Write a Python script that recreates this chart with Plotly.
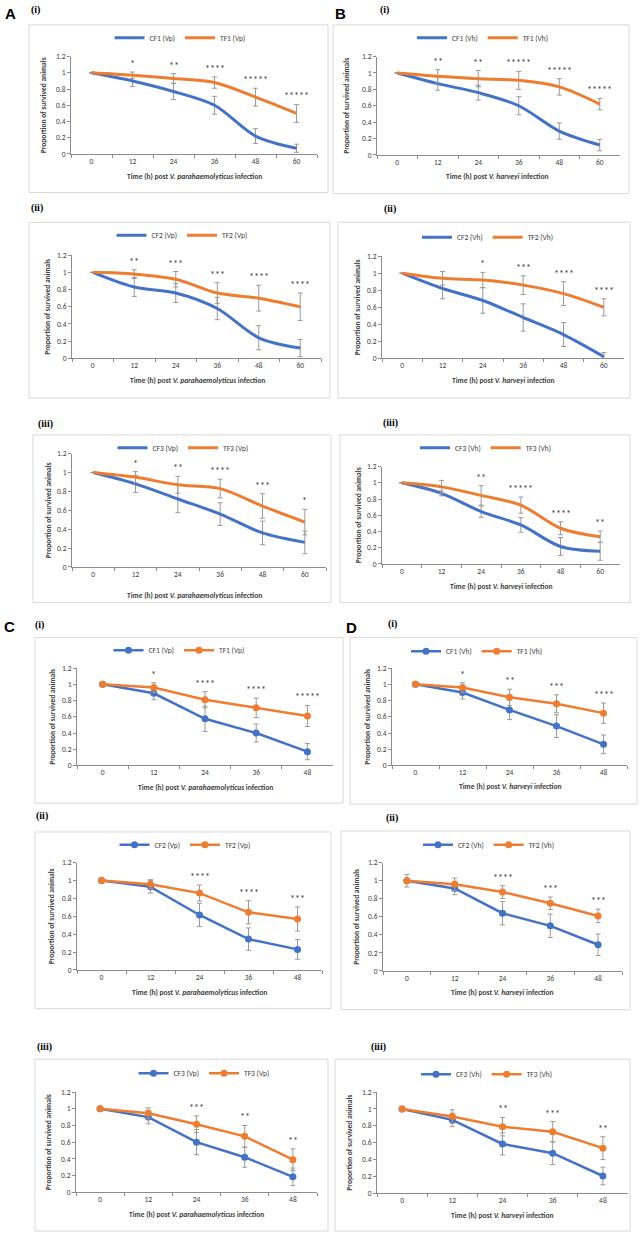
"""Survival curves of challenged animals, panels A-D (i-iii)."""

import plotly.graph_objects as go

W, H = 640, 1239

HOURS_60 = ["0", "12", "24", "36", "48", "60"]
HOURS_48 = ["0", "12", "24", "36", "48"]

# A: V. parahaemolyticus, 60 h
A1_CF = [1.0, 0.90, 0.77, 0.60, 0.22, 0.07]
A1_CF_SD = [0, 0.07, 0.10, 0.11, 0.09, 0.05]
A1_TF = [1.0, 0.97, 0.93, 0.88, 0.70, 0.50]
A1_TF_SD = [0, 0.04, 0.06, 0.07, 0.11, 0.11]
A1_SIG = ["", "*", "**", "****", "*****", "*****"]

A2_CF = [1.0, 0.83, 0.76, 0.58, 0.24, 0.12]
A2_CF_SD = [0, 0.11, 0.11, 0.13, 0.14, 0.10]
A2_TF = [1.0, 0.98, 0.92, 0.76, 0.70, 0.60]
A2_TF_SD = [0, 0.05, 0.09, 0.12, 0.15, 0.16]
A2_SIG = ["", "**", "***", "***", "****", "****"]

A3_CF = [1.0, 0.88, 0.72, 0.56, 0.36, 0.26]
A3_CF_SD = [0, 0.09, 0.145, 0.12, 0.125, 0.12]
A3_TF = [1.0, 0.95, 0.87, 0.83, 0.645, 0.475]
A3_TF_SD = [0, 0.06, 0.09, 0.10, 0.13, 0.135]
A3_SIG = ["", "*", "**", "****", "***", "*"]

# B: V. harveyi, 60 h
B1_CF = [1.0, 0.87, 0.76, 0.60, 0.29, 0.12]
B1_CF_SD = [0, 0.08, 0.09, 0.11, 0.10, 0.07]
B1_TF = [1.0, 0.96, 0.93, 0.91, 0.83, 0.62]
B1_TF_SD = [0, 0.08, 0.10, 0.11, 0.10, 0.07]
B1_SIG = ["", "**", "**", "*****", "*****", "*****"]

B2_CF = [1.0, 0.82, 0.68, 0.48, 0.28, 0.02]
B2_CF_SD = [0, 0.12, 0.15, 0.16, 0.14, 0.05]
B2_TF = [1.0, 0.94, 0.92, 0.86, 0.76, 0.60]
B2_TF_SD = [0, 0.08, 0.09, 0.11, 0.14, 0.10]
B2_SIG = ["", "", "*", "***", "****", "****"]

B3_CF = [1.0, 0.87, 0.645, 0.48, 0.215, 0.155]
B3_CF_SD = [0, 0.03, 0.07, 0.09, 0.11, 0.11]
B3_TF = [1.0, 0.95, 0.845, 0.725, 0.44, 0.335]
B3_TF_SD = [0, 0.08, 0.12, 0.10, 0.08, 0.07]
B3_SIG = ["", "", "**", "*****", "****", "**"]

# C: V. parahaemolyticus, 48 h
C1_CF = [1.0, 0.89, 0.575, 0.40, 0.17]
C1_CF_SD = [0, 0.08, 0.155, 0.11, 0.10]
C1_TF = [1.0, 0.96, 0.81, 0.71, 0.61]
C1_TF_SD = [0, 0.06, 0.10, 0.12, 0.13]
C1_SIG = ["", "*", "****", "****", "*****"]

C2_CF = [1.0, 0.93, 0.615, 0.345, 0.23]
C2_CF_SD = [0, 0.07, 0.13, 0.125, 0.11]
C2_TF = [1.0, 0.96, 0.86, 0.645, 0.57]
C2_TF_SD = [0, 0.05, 0.09, 0.13, 0.135]
C2_SIG = ["", "", "****", "****", "***"]

C3_CF = [1.0, 0.90, 0.60, 0.42, 0.185]
C3_CF_SD = [0, 0.08, 0.15, 0.12, 0.105]
C3_TF = [1.0, 0.945, 0.815, 0.67, 0.39]
C3_TF_SD = [0, 0.065, 0.10, 0.13, 0.13]
C3_SIG = ["", "", "***", "**", "**"]

# D: V. harveyi, 48 h
D1_CF = [1.0, 0.90, 0.685, 0.485, 0.26]
D1_CF_SD = [0, 0.08, 0.12, 0.14, 0.115]
D1_TF = [1.0, 0.96, 0.84, 0.76, 0.645]
D1_TF_SD = [0, 0.06, 0.10, 0.11, 0.125]
D1_SIG = ["", "*", "**", "***", "****"]

D2_CF = [1.0, 0.915, 0.64, 0.50, 0.29]
D2_CF_SD = [0, 0.07, 0.13, 0.13, 0.12]
D2_TF = [1.0, 0.96, 0.875, 0.75, 0.61]
D2_TF_SD = [0.07, 0.07, 0.07, 0.07, 0.075]
D2_SIG = ["", "", "****", "***", "***"]

D3_CF = [1.0, 0.87, 0.585, 0.475, 0.205]
D3_CF_SD = [0, 0.08, 0.13, 0.135, 0.105]
D3_TF = [1.0, 0.91, 0.79, 0.73, 0.535]
D3_TF_SD = [0, 0.08, 0.11, 0.12, 0.135]
D3_SIG = ["", "", "**", "***", "**"]

BLUE = "#4472C4"
ORANGE = "#ED7D31"
ERR = "#9a9a9a"
AXIS = "#8c8c8c"
TEXT = "#404040"
FONT = "Carlito, Liberation Sans Narrow, Liberation Sans, sans-serif"

STRAIN = {"Vp": "V. parahaemolyticus", "Vh": "V. harveyi"}

# data per panel + pixel geometry (plot area, frame, legend centre, titles, labels)
PANELS = [
    dict(h=HOURS_60, cf=A1_CF, cfe=A1_CF_SD, tf=A1_TF, tfe=A1_TF_SD, sig=A1_SIG, n=1, s="Vp", smooth=True,
         plot=(71, 317, 53, 151), box=(29, 21, 328, 190), leg=(180, 34), yt=43, xt=(194, 174),
         letter=("A", 10, 10), roman=("(i)", 35, 6)),
    dict(h=HOURS_60, cf=B1_CF, cfe=B1_CF_SD, tf=B1_TF, tfe=B1_TF_SD, sig=B1_SIG, n=1, s="Vh", smooth=True,
         plot=(377, 620, 53, 152), box=(333, 21, 629, 191), leg=(483, 34), yt=347, xt=(497, 174),
         letter=("B", 340, 10), roman=("(i)", 384, 6)),
    dict(h=HOURS_60, cf=A2_CF, cfe=A2_CF_SD, tf=A2_TF, tfe=A2_TF_SD, sig=A2_SIG, n=2, s="Vp", smooth=True,
         plot=(72, 321, 253, 357), box=(29, 220, 330, 397), leg=(182, 233), yt=48, xt=(197, 379),
         letter=None, roman=("(ii)", 37, 205)),
    dict(h=HOURS_60, cf=B2_CF, cfe=B2_CF_SD, tf=B2_TF, tfe=B2_TF_SD, sig=B2_SIG, n=2, s="Vh", smooth=True,
         plot=(382, 624, 254, 357), box=(338, 220, 630, 397), leg=(488, 235), yt=357, xt=(503, 379),
         letter=None, roman=("(ii)", 390, 206)),
    dict(h=HOURS_60, cf=A3_CF, cfe=A3_CF_SD, tf=A3_TF, tfe=A3_TF_SD, sig=A3_SIG, n=3, s="Vp", smooth=True,
         plot=(72, 326, 453, 567), box=(33, 434, 331, 603), leg=(183, 447), yt=48, xt=(194, 596),
         letter=None, roman=("(iii)", 45, 423)),
    dict(h=HOURS_60, cf=B3_CF, cfe=B3_CF_SD, tf=B3_TF, tfe=B3_TF_SD, sig=B3_SIG, n=3, s="Vh", smooth=True,
         plot=(382, 620, 466, 564), box=(340, 434, 630, 603), leg=(486, 447), yt=358, xt=(501, 587),
         letter=None, roman=("(iii)", 390, 422)),
    dict(h=HOURS_48, cf=C1_CF, cfe=C1_CF_SD, tf=C1_TF, tfe=C1_TF_SD, sig=C1_SIG, n=1, s="Vp", smooth=False,
         plot=(77, 333, 669, 767), box=(35, 638, 343, 805), leg=(179, 651), yt=53, xt=(205, 789),
         letter=("C", 9, 627), roman=("(i)", 39, 626)),
    dict(h=HOURS_48, cf=D1_CF, cfe=D1_CF_SD, tf=D1_TF, tfe=D1_TF_SD, sig=D1_SIG, n=1, s="Vh", smooth=False,
         plot=(392, 627, 669, 767), box=(350, 638, 637, 806), leg=(477, 652), yt=368, xt=(510, 788),
         letter=("D", 351, 628), roman=("(i)", 392, 625)),
    dict(h=HOURS_48, cf=C2_CF, cfe=C2_CF_SD, tf=C2_TF, tfe=C2_TF_SD, sig=C2_SIG, n=2, s="Vp", smooth=False,
         plot=(77, 322, 865, 973), box=(35, 834, 331, 1012), leg=(185, 847), yt=51, xt=(199, 996),
         letter=None, roman=("(ii)", 42, 818)),
    dict(h=HOURS_48, cf=D2_CF, cfe=D2_CF_SD, tf=D2_TF, tfe=D2_TF_SD, sig=D2_SIG, n=2, s="Vh", smooth=False,
         plot=(383, 622, 865, 974), box=(341, 833, 630, 1013), leg=(489, 847), yt=357, xt=(502, 996),
         letter=None, roman=("(ii)", 392, 820)),
    dict(h=HOURS_48, cf=C3_CF, cfe=C3_CF_SD, tf=C3_TF, tfe=C3_TF_SD, sig=C3_SIG, n=3, s="Vp", smooth=False,
         plot=(76, 317, 1096, 1197), box=(35, 1063, 328, 1236), leg=(204, 1077), yt=48, xt=(196, 1219),
         letter=None, roman=("(iii)", 44, 1051)),
    dict(h=HOURS_48, cf=D3_CF, cfe=D3_CF_SD, tf=D3_TF, tfe=D3_TF_SD, sig=D3_SIG, n=3, s="Vh", smooth=False,
         plot=(377, 628, 1096, 1198), box=(335, 1063, 630, 1236), leg=(487, 1078), yt=350, xt=(502, 1220),
         letter=None, roman=("(iii)", 378, 1051)),
]


def xp(px):
    return px / W


def yp(py):
    return 1 - py / H


def label(x, y, text, **font):
    """Paper-positioned text centred on a pixel location."""
    return dict(x=xp(x), y=yp(y), xref="paper", yref="paper", text=text, showarrow=False,
                xanchor="center", yanchor="middle", font=font)


fig = go.Figure()
annotations = []
shapes = []
layout = {}

for i, p in enumerate(PANELS, start=1):
    sfx = "" if i == 1 else str(i)
    xa, ya, leg = "x" + sfx, "y" + sfx, "legend" + sfx
    smooth = p["smooth"]
    series = [
        (f"CF{p['n']} ({p['s']})", p["cf"], p["cfe"], BLUE),
        (f"TF{p['n']} ({p['s']})", p["tf"], p["tfe"], ORANGE),
    ]
    for name, vals, sd, color in series:
        fig.add_trace(go.Scatter(
            x=p["h"], y=vals, name=name, xaxis=xa, yaxis=ya, legend=leg,
            mode="lines" if smooth else "lines+markers",
            line=dict(color=color, width=3 if smooth else 2.5,
                      shape="spline" if smooth else "linear", smoothing=0.9),
            marker=dict(size=7, color=color),
            error_y=dict(type="data", array=sd, color=ERR, thickness=1, width=2.5),
        ))

    x0, x1, y0, y1 = p["plot"]
    layout["xaxis" + sfx] = dict(
        domain=[xp(x0), xp(x1)], anchor=ya, type="category",
        range=[-0.5, len(p["h"]) - 0.5], showline=True, linecolor=AXIS, linewidth=1,
        ticks="outside", ticklen=3, tickcolor=AXIS, tickson="boundaries",
        tickfont=dict(size=7.5, color=TEXT, family=FONT), showgrid=False, zeroline=False,
    )
    layout["yaxis" + sfx] = dict(
        domain=[yp(y1), yp(y0)], anchor=xa, range=[0, 1.2], tick0=0, dtick=0.2,
        showline=True, linecolor=AXIS, linewidth=1, ticks="outside", ticklen=3,
        tickcolor=AXIS, tickfont=dict(size=7.5, color=TEXT, family=FONT),
        showgrid=False, zeroline=False,
    )
    lx, ly = p["leg"]
    layout[leg] = dict(
        x=xp(lx), y=yp(ly), xanchor="center", yanchor="middle", orientation="h",
        font=dict(size=7.5, color=TEXT, family=FONT), bgcolor="rgba(0,0,0,0)",
        itemwidth=30, tracegroupgap=0,
    )

    # significance stars above the treated series
    for j, s in enumerate(p["sig"]):
        if s:
            annotations.append(dict(
                x=j, y=p["tf"][j] + p["tfe"][j], xref=xa, yref=ya, text=s,
                showarrow=False, xanchor="center", yanchor="bottom",
                font=dict(size=10, color=TEXT, family=FONT),
            ))

    yt = label(p["yt"], (y0 + y1) / 2, "<b>Proportion of survived animals</b>",
               size=7.5, color=TEXT, family=FONT)
    yt["textangle"] = -90
    annotations.append(yt)
    tx, ty = p["xt"]
    annotations.append(label(tx, ty, f"<b>Time (h) post <i>{STRAIN[p['s']]}</i> infection</b>",
                             size=7.5, color=TEXT, family=FONT))

    bx0, by0, bx1, by1 = p["box"]
    shapes.append(dict(
        type="rect", xref="paper", yref="paper", x0=xp(bx0), x1=xp(bx1), y0=yp(by1), y1=yp(by0),
        line=dict(color="#d9d9d9", width=1), fillcolor="rgba(0,0,0,0)", layer="below",
    ))

    if p["letter"]:
        t, lx_, ly_ = p["letter"]
        annotations.append(label(lx_, ly_, f"<b>{t}</b>", size=15, color="black",
                                 family="Liberation Sans, Arial"))
    t, rx, ry = p["roman"]
    annotations.append(label(rx, ry, f"<b>{t}</b>", size=10, color="black",
                             family="Liberation Serif, Times New Roman"))

fig.update_layout(
    width=W, height=H, margin=dict(l=0, r=0, t=0, b=0),
    paper_bgcolor="white", plot_bgcolor="white", showlegend=True,
    annotations=annotations, shapes=shapes, **layout,
)

# the page body has a default 8px margin; drop it so the figure fills the window
fig.write_html("out.html", config={"displayModeBar": False},
               post_script="document.body.style.margin = '0';")
